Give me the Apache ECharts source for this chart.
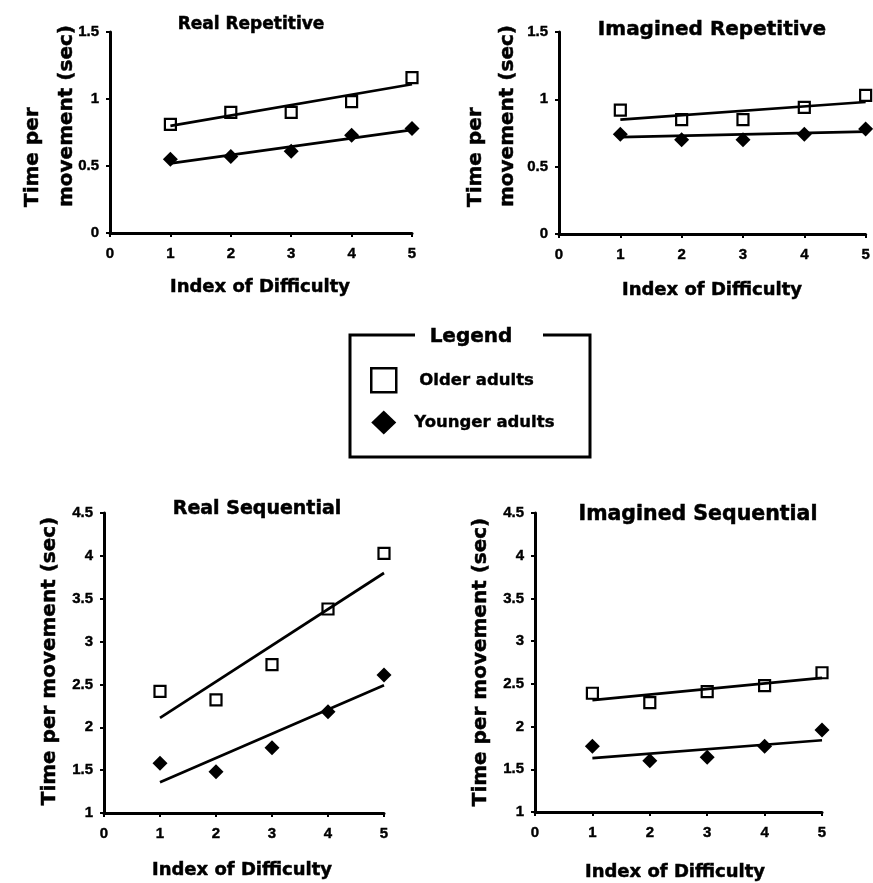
<!DOCTYPE html>
<html>
<head>
<meta charset="utf-8">
<script src="https://cdn.jsdelivr.net/npm/echarts@6/dist/echarts.min.js"></script>
<style>
html,body{margin:0;padding:0;background:#fff;}
#chart{width:873px;height:883px;}
</style>
</head>
<body>
<div id="chart"></div>
<script>
// ---- data ----
const indexOfDifficulty = [1, 2, 3, 4, 5];
const panelTitles = ['Real Repetitive', 'Imagined Repetitive', 'Real Sequential', 'Imagined Sequential'];
const seriesNames = ['Older adults', 'Younger adults'];

const realRepOlder   = [0.81, 0.90, 0.90, 0.98, 1.16];
const realRepYounger = [0.55, 0.57, 0.61, 0.73, 0.78];
const imagRepOlder   = [0.92, 0.85, 0.85, 0.94, 1.03];
const imagRepYounger = [0.74, 0.70, 0.70, 0.74, 0.78];
const realSeqOlder   = [2.42, 2.32, 2.73, 3.38, 4.03];
const realSeqYounger = [1.58, 1.48, 1.76, 2.18, 2.61];
const imagSeqOlder   = [2.39, 2.28, 2.41, 2.48, 2.63];
const imagSeqYounger = [1.77, 1.60, 1.64, 1.77, 1.96];

// fitted trend lines: value at ID=1 and at ID=5
const fitX = [1, 5];
const realRepOlderFit   = [0.80, 1.11];
const realRepYoungerFit = [0.52, 0.77];
const imagRepOlderFit   = [0.85, 0.98];
const imagRepYoungerFit = [0.72, 0.76];
const realSeqOlderFit   = [2.11, 3.80];
const realSeqYoungerFit = [1.36, 2.49];
const imagSeqOlderFit   = [2.31, 2.57];
const imagSeqYoungerFit = [1.63, 1.84];

const xTicks = [0, 1, 2, 3, 4, 5];
const yTicksRep = [0, 0.5, 1, 1.5];
const yTicksSeq = [1, 1.5, 2, 2.5, 3, 3.5, 4, 4.5];

// ---- chart ----
const BOLD = 'DejaVu Sans';
const TICKFONT = 'Liberation Sans';
const chart = echarts.init(document.getElementById('chart'), null, {renderer: 'canvas'});

const grids = [
  {left: 110, top: 32, width: 302, height: 201},
  {left: 559, top: 32, width: 308, height: 202},
  {left: 104, top: 513, width: 280, height: 300},
  {left: 535, top: 513, width: 287, height: 299}
];

function axisCommon() {
  return {
    type: 'value',
    axisLine: {show: true, onZero: false, lineStyle: {color: '#000', width: 3}},
    axisTick: {show: true, inside: false, length: 4, lineStyle: {color: '#000', width: 2}},
    splitLine: {show: false}
  };
}
const tickLabel = {color: '#000', fontFamily: TICKFONT, fontWeight: 'bold', fontSize: 15,
                   textBorderColor: '#000', textBorderWidth: 0.4};

const xAxes = grids.map((g, i) => Object.assign(axisCommon(), {
  gridIndex: i, min: xTicks[0], max: xTicks[xTicks.length - 1], interval: 1,
  axisLabel: Object.assign({margin: 13}, tickLabel)
}));
const yAxes = grids.map((g, i) => {
  const t = i < 2 ? yTicksRep : yTicksSeq;
  return Object.assign(axisCommon(), {
    gridIndex: i, min: t[0], max: t[t.length - 1], interval: 0.5,
    axisLabel: Object.assign({margin: 11}, tickLabel)
  });
});

const panels = [
  [realRepOlder, realRepYounger, realRepOlderFit, realRepYoungerFit],
  [imagRepOlder, imagRepYounger, imagRepOlderFit, imagRepYoungerFit],
  [realSeqOlder, realSeqYounger, realSeqOlderFit, realSeqYoungerFit],
  [imagSeqOlder, imagSeqYounger, imagSeqOlderFit, imagSeqYoungerFit]
];

const series = [];
panels.forEach((p, i) => {
  [2, 3].forEach(k => {
    series.push({
      type: 'line', name: (k === 2 ? 'Older' : 'Younger') + ' fit ' + (i + 1),
      xAxisIndex: i, yAxisIndex: i, z: 2, silent: true,
      data: fitX.map((x, j) => [x, p[k][j]]),
      symbol: 'none', lineStyle: {color: '#000', width: 2.7}
    });
  });
  series.push({
    type: 'scatter', name: seriesNames[0], xAxisIndex: i, yAxisIndex: i, z: 3,
    data: indexOfDifficulty.map((x, j) => [x, p[0][j]]),
    symbol: 'rect', symbolSize: 11,
    itemStyle: {color: 'rgba(255,255,255,0)', borderColor: '#000', borderWidth: 2.2, opacity: 1}
  });
  series.push({
    type: 'scatter', name: seriesNames[1], xAxisIndex: i, yAxisIndex: i, z: 3,
    data: indexOfDifficulty.map((x, j) => [x, p[1][j]]),
    symbol: 'diamond', symbolSize: 15,
    itemStyle: {color: '#000', opacity: 1}
  });
});

const titlePos = [[251, 25, 17], [712, 30, 20], [257, 509, 19], [698, 515, 20.5]];
const titles = panelTitles.map((t, i) => ({
  text: t, left: titlePos[i][0], top: titlePos[i][1], textAlign: 'center', textVerticalAlign: 'middle',
  padding: 0,
  textStyle: {fontFamily: BOLD, fontWeight: 'bold', fontSize: titlePos[i][2], color: '#000',
              textBorderColor: '#000', textBorderWidth: 0.5}
}));

function fnt(size) { return 'bold ' + size + 'px "' + BOLD + '"'; }
function txt(text, x, y, size, extra) {
  return Object.assign({
    type: 'text', x: x, y: y,
    style: {text: text, fill: '#000', font: fnt(size), align: 'center', verticalAlign: 'middle',
            stroke: '#000', lineWidth: 0.5}
  }, extra || {});
}
function vtxt(text, x, y, align, lh) {
  return {type: 'text', x: x, y: y, rotation: Math.PI / 2,
    style: {text: text, fill: '#000', font: fnt(20), align: align, verticalAlign: 'middle',
            lineHeight: lh, stroke: '#000', lineWidth: 0.5}};
}

const graphics = [
  // x-axis names
  txt('Index of Difficulty', 260, 287, 18),
  txt('Index of Difficulty', 712, 290, 18),
  txt('Index of Difficulty', 242, 870, 18),
  txt('Index of Difficulty', 675, 872, 18),
  // y-axis names
  vtxt('Time per\nmovement (sec)', 50, 207, 'left', 34),
  vtxt('Time per\nmovement (sec)', 492, 207, 'left', 32),
  vtxt('Time per movement (sec)', 50, 661, 'center', 24),
  vtxt('Time per movement (sec)', 481, 662, 'center', 24),
  // legend frame
  {type: 'polyline', shape: {points: [[415, 335], [350, 335], [350, 457], [590, 457], [590, 335], [543, 335]]},
   style: {stroke: '#000', lineWidth: 3, fill: null}},
  txt('Legend', 471, 337, 20)
];

chart.setOption({
  animation: false,
  backgroundColor: '#fff',
  title: titles,
  grid: grids,
  xAxis: xAxes,
  yAxis: yAxes,
  legend: {
    orient: 'vertical', left: 365, top: 362, itemWidth: 25, itemHeight: 24, itemGap: 17,
    selectedMode: false,
    itemStyle: {borderWidth: 2.5, opacity: 1},
    textStyle: {fontFamily: BOLD, fontWeight: 'bold', fontSize: 16.5, color: '#000',
                textBorderColor: '#000', textBorderWidth: 0.4},
    data: [
      {name: seriesNames[0], textStyle: {padding: [0, 0, 0, 18]}},
      {name: seriesNames[1], textStyle: {padding: [0, 0, 0, 13]}}
    ]
  },
  graphic: graphics,
  series: series
});
</script>
</body>
</html>
